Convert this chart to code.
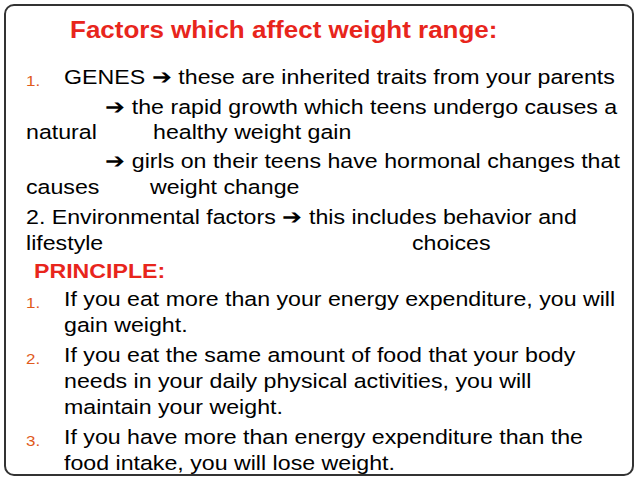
<!DOCTYPE html>
<html><head><meta charset="utf-8">
<script src="https://cdn.jsdelivr.net/npm/chart.js@4"></script>
<style>
html,body{margin:0;padding:0;background:#fff;width:638px;height:479px;overflow:hidden}
#frame{position:absolute;left:4px;top:4px;width:626px;height:468px;border:2px solid #333;border-radius:10px}
.t{position:absolute;font-family:"Liberation Sans",Arial,sans-serif;font-size:20.5px;color:#000;white-space:pre;line-height:1;transform:scaleX(1.13);transform-origin:0 0}
.r{color:#e8251c}
.n{color:#e05a1c;font-size:15px}
</style></head><body>
<div id="frame"></div>
<div id="c"></div>
<script>
const lines=[
 [70,19,'<b class="r" style="font-size:23px">Factors which affect weight range:</b>'],
 [64,67,'GENES &#10132; these are inherited traits from your parents'],
 [105,97,'&#10132; the rapid growth which teens undergo causes a'],
 [26,122,'natural'],[153,122,'healthy weight gain'],
 [105,151,'&#10132; girls on their teens have hormonal changes that'],
 [26,177,'causes'],[150,177,'weight change'],
 [26,207,'2. Environmental factors &#10132; this includes behavior and'],
 [26,233,'lifestyle'],[412,233,'choices'],
 [34,261,'<b class="r">PRINCIPLE:</b>'],
 [64,289,'If you eat more than your energy expenditure, you will'],
 [64,315,'gain weight.'],
 [64,345,'If you eat the same amount of food that your body'],
 [64,371,'needs in your daily physical activities, you will'],
 [64,397,'maintain your weight.'],
 [64,427,'If you have more than energy expenditure than the'],
 [64,453,'food intake, you will lose weight.'],
 [26,69,'<span class="n">1.</span>'],[26,291,'<span class="n">1.</span>'],[26,347,'<span class="n">2.</span>'],[26,429,'<span class="n">3.</span>']
];
const c=document.getElementById('c');
for(const [x,y,h] of lines){const d=document.createElement('div');d.className='t';d.style.left=x+'px';d.style.top=y+'px';d.innerHTML=h;c.appendChild(d);}
</script>
</body></html>
